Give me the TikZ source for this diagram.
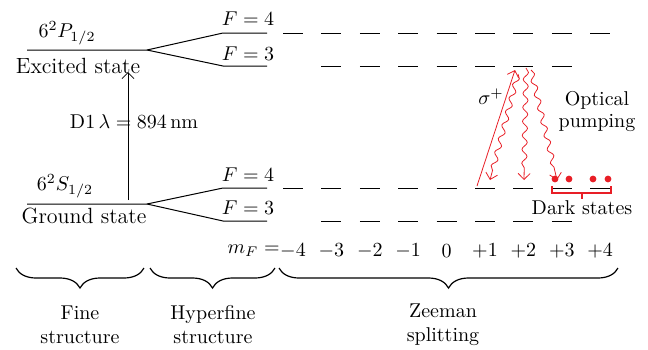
\documentclass[tikz,border=0pt]{standalone}
\usepackage{amsmath,amssymb}
\usetikzlibrary{arrows.meta,decorations.pathmorphing,decorations.pathreplacing}
\definecolor{pumpred}{RGB}{232,30,38}

\begin{document}
\begin{tikzpicture}[x=0.5pt,y=-0.5pt,>={Straight Barb[length=3pt,width=6pt]},
  every node/.style={font=\normalsize},
  bigtext/.style={font=\fontsize{11}{13}\selectfont},
  level/.style={line width=0.5pt},
  wavy/.style={pumpred,->,decorate,decoration={snake,amplitude=1.3pt,segment length=7pt,post length=4pt}},
  grp/.style={semithick,decorate,decoration={brace,mirror,amplitude=10pt}}]
\useasboundingbox (0,0) rectangle (648,349);

% fine structure
\coordinate (Pl) at (27,50);  \coordinate (Psp) at (147,50);
\coordinate (Sl) at (27,204); \coordinate (Ssp) at (147,204);
\draw[level] (Pl) -- (Psp) -- (223,33) -- (267,33);
\draw[level] (Psp) -- (223,66) -- (267,66);
\draw[level] (Sl) -- (Ssp) -- (223,188) -- (267,188);
\draw[level] (Ssp) -- (223,221) -- (267,221);
\node (Plbl) at (67,33) {$6^2P_{1/2}$};
\node[bigtext] (Pname) at (78,66) {Excited state};
\node (Slbl) at (65,186) {$6^2S_{1/2}$};
\node[bigtext] (Sname) at (84,216) {Ground state};

% hyperfine labels
\node (P4lbl) at (248,19) {$F=4$};
\node (P3lbl) at (248,54) {$F=3$};
\node (S4lbl) at (248,175) {$F=4$};
\node (S3lbl) at (248,208) {$F=3$};

% D1 line
\coordinate (dlo) at (128,200);
\coordinate (dhi) at (128,72);
\node (dlbl) at (134,122) {D1\,$\lambda=894\,\text{nm}$};
\draw[->] (dlo) -- (dhi);

% Zeeman sublevels
\foreach \i in {0,...,8}{
  \pgfmathsetmacro\cx{293+38.4*\i}
  \draw[level] (\cx-10,33) -- (\cx+10,33);
  \draw[level] (\cx-10,188) -- (\cx+10,188);
  \coordinate (u\i) at (\cx,33);
  \coordinate (g\i) at (\cx,188);
}
\foreach \i in {1,...,7}{
  \pgfmathsetmacro\cx{293+38.4*\i}
  \draw[level] (\cx-10,66) -- (\cx+10,66);
  \draw[level] (\cx-10,221) -- (\cx+10,221);
  \coordinate (v\i) at (\cx,66);
  \coordinate (h\i) at (\cx,221);
}
\node[anchor=east,inner sep=1pt] (mflbl) at (282,251) {$m_F=$};
\foreach \v [count=\i from 0] in {-4,-3,-2,-1,0,+1,+2,+3,+4}
  \node (mf\i) at (293+38.4*\i,251) {$\v$};

% pumping
\coordinate (sigs) at (477,186);
\coordinate (sige) at (515,70);
\draw[pumpred,->] (sigs) -- (sige);
\node (siglbl) at (491,97) {$\sigma^+$};
\coordinate (w0) at (518,74);
\coordinate (w1) at (526,68);
\coordinate (w2) at (531,70);
\coordinate (e0) at (490,180);
\coordinate (e1) at (524,180);
\coordinate (e2) at (557,180);
\draw[wavy] (w0) -- (e0);
\draw[wavy] (w1) -- (e1);
\draw[wavy] (w2) -- (e2);
\node[align=center,inner sep=0pt] (pumplbl) at (597,112) {Optical\\[-1pt]pumping};

% dark states
\foreach \x in {555,569,593,608}
  \fill[pumpred] (\x,179) circle (1.7pt);
\draw[pumpred,semithick] (552,186) -- (552,193) -- (611,193) -- (611,186);
\draw[pumpred,semithick] (582,193) -- (582,199);
\node (darklbl) at (582,208) {Dark states};

% braces
\draw[grp] (16,268) -- (144,268);
\draw[grp] (150,268) -- (275,268);
\draw[grp] (279,268) -- (618,268);
\node[align=center] (finelbl) at (80,325) {Fine\\structure};
\node[align=center] (hyplbl) at (213,325) {Hyperfine\\structure};
\node[align=center] (zeelbl) at (443,325) {Zeeman\\splitting};
\end{tikzpicture}
\end{document}
